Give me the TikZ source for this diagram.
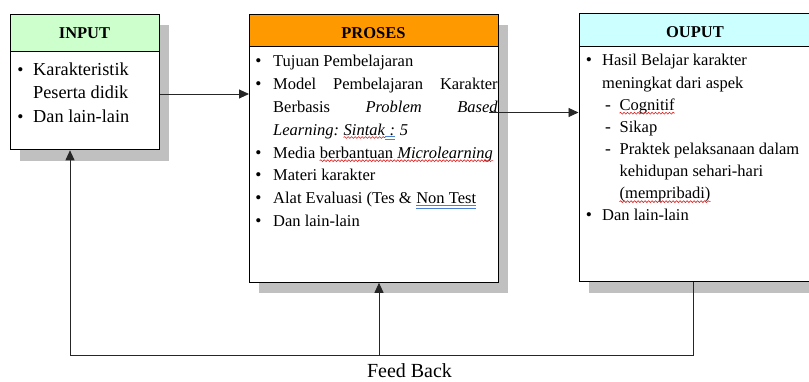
\documentclass[tikz,border=0pt]{standalone}
\usepackage{fontspec}
\setmainfont{Liberation Serif}
\usetikzlibrary{arrows.meta,shadows,decorations.pathmorphing}
\definecolor{hdrgreen}{HTML}{CCFFCC}
\definecolor{hdrorange}{HTML}{FF9900}
\definecolor{hdrcyan}{HTML}{CCFFFF}
\definecolor{shadowgray}{HTML}{C0C0C0}
\definecolor{spellred}{HTML}{E02020}
\definecolor{gramblue}{HTML}{4A7FD8}
\begin{document}
\begin{tikzpicture}[x=1pt,y=-1pt,
 box/.style={draw=black, line width=0.8pt, fill=white, anchor=north west, inner sep=0pt,
   drop shadow={shadow xshift=10pt, shadow yshift=-11pt, fill=shadowgray, opacity=1}},
 hdr/.style={draw=black, line width=0.8pt, anchor=north west, inner sep=0pt},
 hdrtext/.style={inner sep=0pt, anchor=base, font=\fontsize{16.5}{20}\selectfont\bfseries},
 bodytext/.style={inner sep=0pt, anchor=base west, font=\fontsize{16.5}{20}\selectfont},
 bigbody/.style={inner sep=0pt, anchor=base west, font=\fontsize{18.3}{22}\selectfont},
 bulletmark/.style={inner sep=0pt, anchor=base, font=\fontsize{17.5}{20}\selectfont},
 conn/.style={draw=black!85, line width=0.9pt},
 arr/.style={conn, -{Triangle[length=10pt,width=9pt]}},
 spellwave/.style={draw=spellred, line width=0.6pt, decorate, decoration={snake, amplitude=0.9pt, segment length=3.5pt}},
 gramline/.style={draw=gramblue, line width=0.6pt},
]
\useasboundingbox (0,0) rectangle (809,382);
\clip (0,0) rectangle (809,382);
% boxes
\node[box, minimum width=149pt, minimum height=135.5pt] (inbox) at (10,14) {};
\node[hdr, fill=hdrgreen, minimum width=149pt, minimum height=37pt] (inhead) at (10,14) {};
\node[box, minimum width=249pt, minimum height=268pt] (prbox) at (249,14) {};
\node[hdr, fill=hdrorange, minimum width=249pt, minimum height=32pt] (prhead) at (249,14) {};
\node[box, minimum width=233pt, minimum height=268pt] (outbox) at (578.5,13.5) {};
\node[hdr, fill=hdrcyan, minimum width=233pt, minimum height=32.5pt] (outhead) at (578.5,13.5) {};
% titles
\node[hdrtext] (intitle) at (84.5,38.3) {INPUT};
\node[hdrtext] (prtitle) at (373.5,38.3) {PROSES};
\node[hdrtext] (outtitle) at (695,37.3) {OUPUT};
% input body
\node[bulletmark] (inb1) at (20.5,76) {\textbullet};
\node[bigbody] (in1) at (33,76) {Karakteristik};
\node[bigbody] (in2) at (33,99) {Peserta didik};
\node[bulletmark] (inb2) at (20.5,122.5) {\textbullet};
\node[bigbody] (in3) at (33,122.5) {Dan lain-lain};
% proses body
\node[bulletmark] (prb1) at (258.5,66.7) {\textbullet};
\node[bodytext] (pr1) at (273,66.7) {Tujuan Pembelajaran};
\node[bulletmark] (prb2) at (258.5,89.6) {\textbullet};
\node[bodytext] (pr2) at (273,89.6) {\makebox[224.5pt][s]{Model Pembelajaran Karakter}};
\node[bodytext] (pr3) at (273,112.4) {\makebox[224.5pt][s]{Berbasis \textit{Problem} \textit{Based}}};
\node[bodytext] (pr4a) at (273,135.3) {\textit{Learning:}\ \mbox{}};
\node[bodytext] (pr4b) at (pr4a.base east) {\textit{Sintak}};
\node[bodytext] (pr4c) at (pr4b.base east) {\textit{\ :}};
\node[bodytext] (pr4d) at (pr4c.base east) {\textit{\ 5}};
\node[bulletmark] (prb5) at (258.5,158.1) {\textbullet};
\node[bodytext] (pr5a) at (273,158.1) {Media\ \mbox{}};
\node[bodytext] (pr5b) at (pr5a.base east) {berbantuan \textit{Microlearning}};
\node[bulletmark] (prb6) at (258.5,181) {\textbullet};
\node[bodytext] (pr6) at (273,181) {Materi karakter};
\node[bulletmark] (prb7) at (258.5,203.9) {\textbullet};
\node[bodytext] (pr7a) at (273,203.9) {Alat Evaluasi (Tes \&\ \mbox{}};
\node[bodytext] (pr7b) at (pr7a.base east) {Non Test};
\node[bulletmark] (prb8) at (258.5,226.7) {\textbullet};
\node[bodytext] (pr8) at (273,226.7) {Dan lain-lain};
% output body
\node[bulletmark] (ob1) at (589,66) {\textbullet};
\node[bodytext] (o1) at (602,66) {Hasil Belajar karakter};
\node[bodytext] (o2) at (602,88.1) {meningkat dari aspek};
\node[bulletmark] (od1) at (608,110.2) {-};
\node[bodytext] (o3) at (619.5,110.2) {Cognitif};
\node[bulletmark] (od2) at (608,132.3) {-};
\node[bodytext] (o4) at (619.5,132.3) {Sikap};
\node[bulletmark] (od3) at (608,154.4) {-};
\node[bodytext] (o5) at (619.5,154.4) {Praktek pelaksanaan dalam};
\node[bodytext] (o6) at (619.5,176.5) {kehidupan sehari-hari};
\node[bodytext] (o7) at (619.5,198.6) {(mempribadi)};
\node[bulletmark] (ob2) at (589,220.7) {\textbullet};
\node[bodytext] (o8) at (602,220.7) {Dan lain-lain};
% spelling / grammar marks
\draw[spellwave] ([yshift=-2.2pt]pr4b.base west) -- ([yshift=-2.2pt]pr4b.base east);
\draw[spellwave] ([yshift=-2.6pt]pr5b.base west) -- ([yshift=-2.6pt]pr5b.base east);
\draw[spellwave] ([yshift=-3pt]o3.base west) -- ([yshift=-3pt]o3.base east);
\draw[spellwave] ([yshift=-3pt]o7.base west) -- ([yshift=-3pt]o7.base east);
\draw[gramline] ([yshift=-1.5pt]pr4c.base west) -- ([yshift=-1.5pt]pr4c.base east);
\draw[gramline] ([yshift=-4.2pt]pr4c.base west) -- ([yshift=-4.2pt]pr4c.base east);
\draw[gramline] ([yshift=-1.5pt]pr7b.base west) -- ([yshift=-1.5pt]pr7b.base east);
\draw[gramline] ([yshift=-4.2pt]pr7b.base west) -- ([yshift=-4.2pt]pr7b.base east);
% connectors
\coordinate (yin) at (0,94);
\draw[arr] (inbox.east |- yin) -- (prbox.west |- yin);
\coordinate (pstart) at (489,112.5);
\draw[arr] (pstart) -- (outbox.west |- pstart);
\coordinate (fbR) at (693,355);
\coordinate (fbL) at (70,355);
\coordinate (fbM) at (379,355);
\draw[arr] (outbox.south -| fbR) -- (fbR) -- (fbL) -- (inbox.south -| fbL);
\draw[arr] (fbM) -- (prbox.south -| fbM);
\node[inner sep=0pt, anchor=base, font=\fontsize{20}{24}\selectfont] (fbtext) at (409.5,377.5) {Feed Back};
\end{tikzpicture}
\end{document}
